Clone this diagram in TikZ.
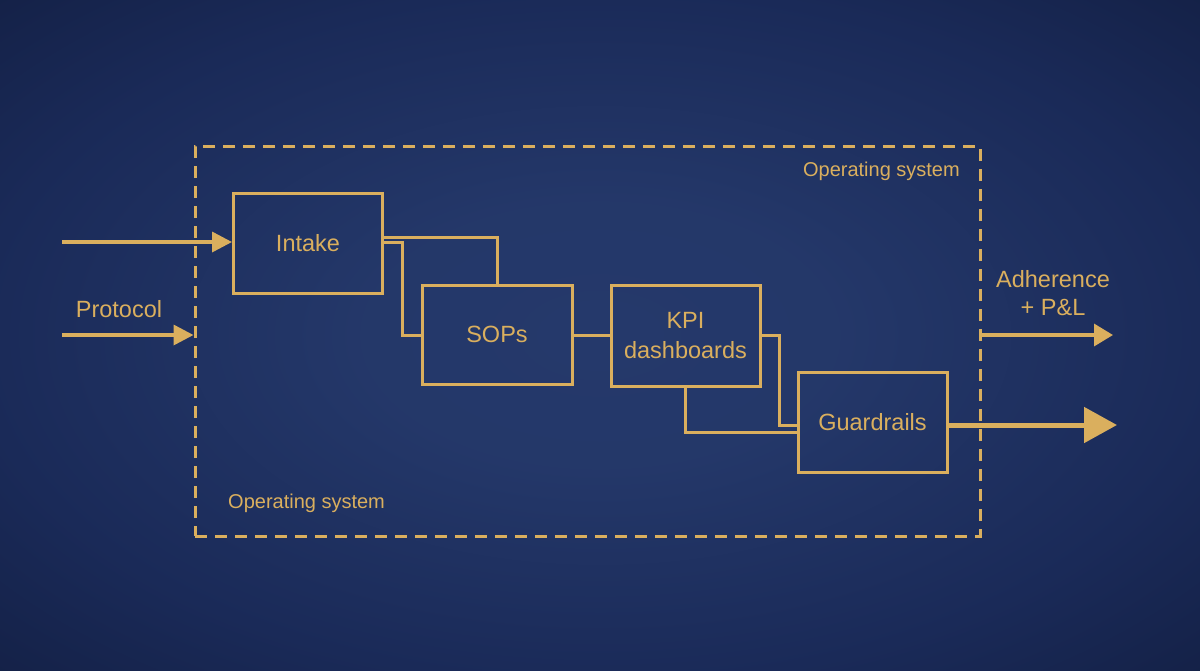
\documentclass[tikz,border=0pt]{standalone}
\usepackage{fontspec}
\setmainfont{Liberation Sans}
\usetikzlibrary{arrows.meta,calc}
\definecolor{gold}{HTML}{DAAF5E}
\definecolor{bgin}{HTML}{25396B}
\definecolor{bgmid}{HTML}{1A2A58}
\definecolor{bgout}{HTML}{0E1836}
\pgfdeclareradialshading{bgshade}{\pgfpoint{0bp}{0bp}}{color(0bp)=(bgin); color(10bp)=(bgin!90!bgmid); color(26bp)=(bgmid); color(46bp)=(bgout); color(80bp)=(bgout)}
\tikzset{
  stage/.style={draw=gold, line width=3pt, text=gold, align=center, inner sep=0pt,
     font=\fontsize{23.5}{30}\selectfont},
  link/.style={draw=gold, line width=3pt},
  frame/.style={draw=gold, line width=3pt, dash pattern=on 12pt off 8pt, inner sep=0pt},
  lab/.style={text=gold, align=center, inner sep=0pt, font=\fontsize{23.5}{28}\selectfont},
  small/.style={text=gold, inner sep=0pt, font=\fontsize{20}{24}\selectfont},
  arr/.style={draw=gold, line width=3.5pt, -{Triangle[length=20pt,width=20pt]}},
  bigarr/.style={draw=gold, line width=5pt, -{Triangle[length=33pt,width=35pt]}},
}
\begin{document}
\begin{tikzpicture}[x=1pt,y=-1pt]
\shade[shading=bgshade] (0,0) rectangle (1200,670);
\useasboundingbox (0,0) rectangle (1200,670);

\node[frame, minimum width=785pt, minimum height=390pt] (frame) at (587.5,341) {};
\node[small, anchor=east] (ostop) at (960,171) {Operating system};
\node[small, anchor=west] (osbot) at (228,503) {Operating system};

\node[stage, minimum width=149pt, minimum height=100pt] (intake) at (308,243) {Intake};
\node[stage, minimum width=150pt, minimum height=99pt] (sops) at (497,334.5) {SOPs};
\node[stage, minimum width=149pt, minimum height=101pt] (kpi) at (685.5,335.5) {KPI\\dashboards};
\node[stage, minimum width=149pt, minimum height=100pt] (guard) at (872.5,422) {Guardrails};

% connectors
\draw[link] ($(intake.east)+(0,-6)$) -| (sops.north);
\draw[link] ($(intake.east)+(0,-1)$) -| (402,335) -- (sops.west |- 0,335);
\draw[link] (sops.east |- 0,335) -- (kpi.west |- 0,335);
\draw[link] (kpi.east |- 0,335) -| (779,425) -- (guard.west |- 0,425);
\draw[link] (kpi.south) |- (guard.west |- 0,432);

% inputs
\coordinate (in1) at (62,242);
\coordinate (in2) at (62,335);
\draw[arr] (in1) -- (intake.west |- in1);
\draw[arr] (in2) -- (frame.west |- in2);
\node[lab] (protocol) at (119,309) {Protocol};

% outputs
\coordinate (out1) at (1113,335);
\coordinate (out2) at (1117,425);
\draw[draw=gold, line width=3.5pt, -{Triangle[length=19pt,width=22pt]}] (frame.east |- out1) -- (out1);
\draw[bigarr] (guard.east |- out2) -- (out2);
\node[lab] (adh) at (1053,293) {Adherence\\+ P\&L};
\end{tikzpicture}
\end{document}
